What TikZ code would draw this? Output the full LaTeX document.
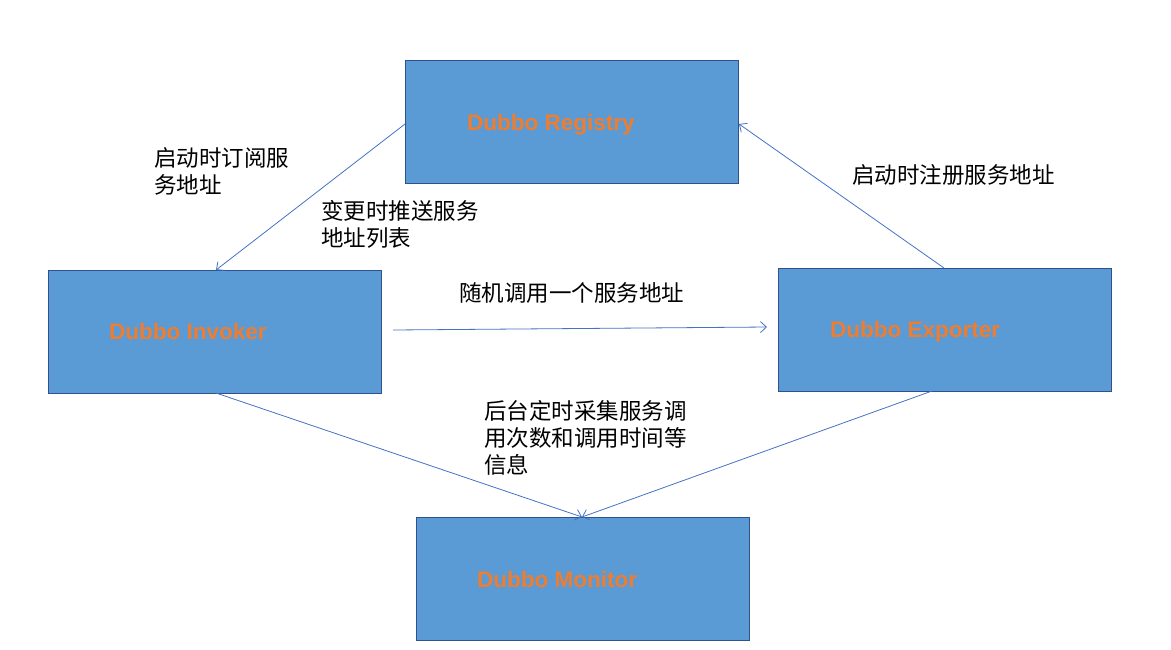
\documentclass[tikz,border=0pt]{standalone}
\usepackage{fontspec}
\setmainfont{Liberation Sans}
\newfontfamily\cjk{Noto Sans CJK SC}
\usetikzlibrary{arrows.meta}
\definecolor{boxfill}{HTML}{5B9BD5}
\definecolor{boxline}{HTML}{2F528F}
\definecolor{linkc}{HTML}{4472C4}
\definecolor{txto}{HTML}{ED7D31}
\begin{document}
\begin{tikzpicture}[x=1pt,y=-1pt,
  box/.style={draw=boxline,line width=1.2pt,fill=boxfill,minimum width=333pt,minimum height=123pt,inner sep=0,anchor=north west},
  boxlabel/.style={anchor=base west,inner sep=0,text=txto,font=\fontsize{22.5}{26}\selectfont\bfseries},
  lbl/.style={anchor=north west,inner sep=0,align=left,font=\cjk\fontsize{22.5}{27}\selectfont},
  link/.style={draw=linkc,line width=0.8pt,-{Straight Barb[length=6pt,width=11pt]}}]
\useasboundingbox (0,0) rectangle (1171,649);
\node[box] (reg) at (405,60) {};
\node[box] (inv) at (48,270) {};
\node[box] (exp) at (778,268) {};
\node[box] (mon) at (416,517) {};
\node[boxlabel] (regt) at (467,130) {Dubbo Registry};
\node[boxlabel] (invt) at (109,339) {Dubbo Invoker};
\node[boxlabel] (expt) at (830,337) {Dubbo Exporter};
\node[boxlabel] (mont) at (477,587) {Dubbo Monitor};
\coordinate (regL) at (405,124);
\coordinate (regR) at (739,124);
\coordinate (invT) at (216,270);
\coordinate (invB) at (216,393);
\coordinate (expT) at (944,268);
\coordinate (expB) at (932,391);
\coordinate (monT) at (582,517);
\coordinate (callS) at (393,330);
\coordinate (callE) at (767,327);
\draw[link] (regL) -- (invT);
\draw[link] (expT) -- (regR);
\draw[link] (callS) -- (callE);
\draw[link] (invB) -- (monT);
\draw[link] (expB) -- (monT);
\node[lbl] (l1) at (154,147) {启动时订阅服\\务地址};
\node[lbl] (l2) at (321,200) {变更时推送服务\\地址列表};
\node[lbl] (l3) at (852,164) {启动时注册服务地址};
\node[lbl] (l4) at (459,282) {随机调用一个服务地址};
\node[lbl] (l5) at (484,400) {后台定时采集服务调\\用次数和调用时间等\\信息};
\end{tikzpicture}
\end{document}
